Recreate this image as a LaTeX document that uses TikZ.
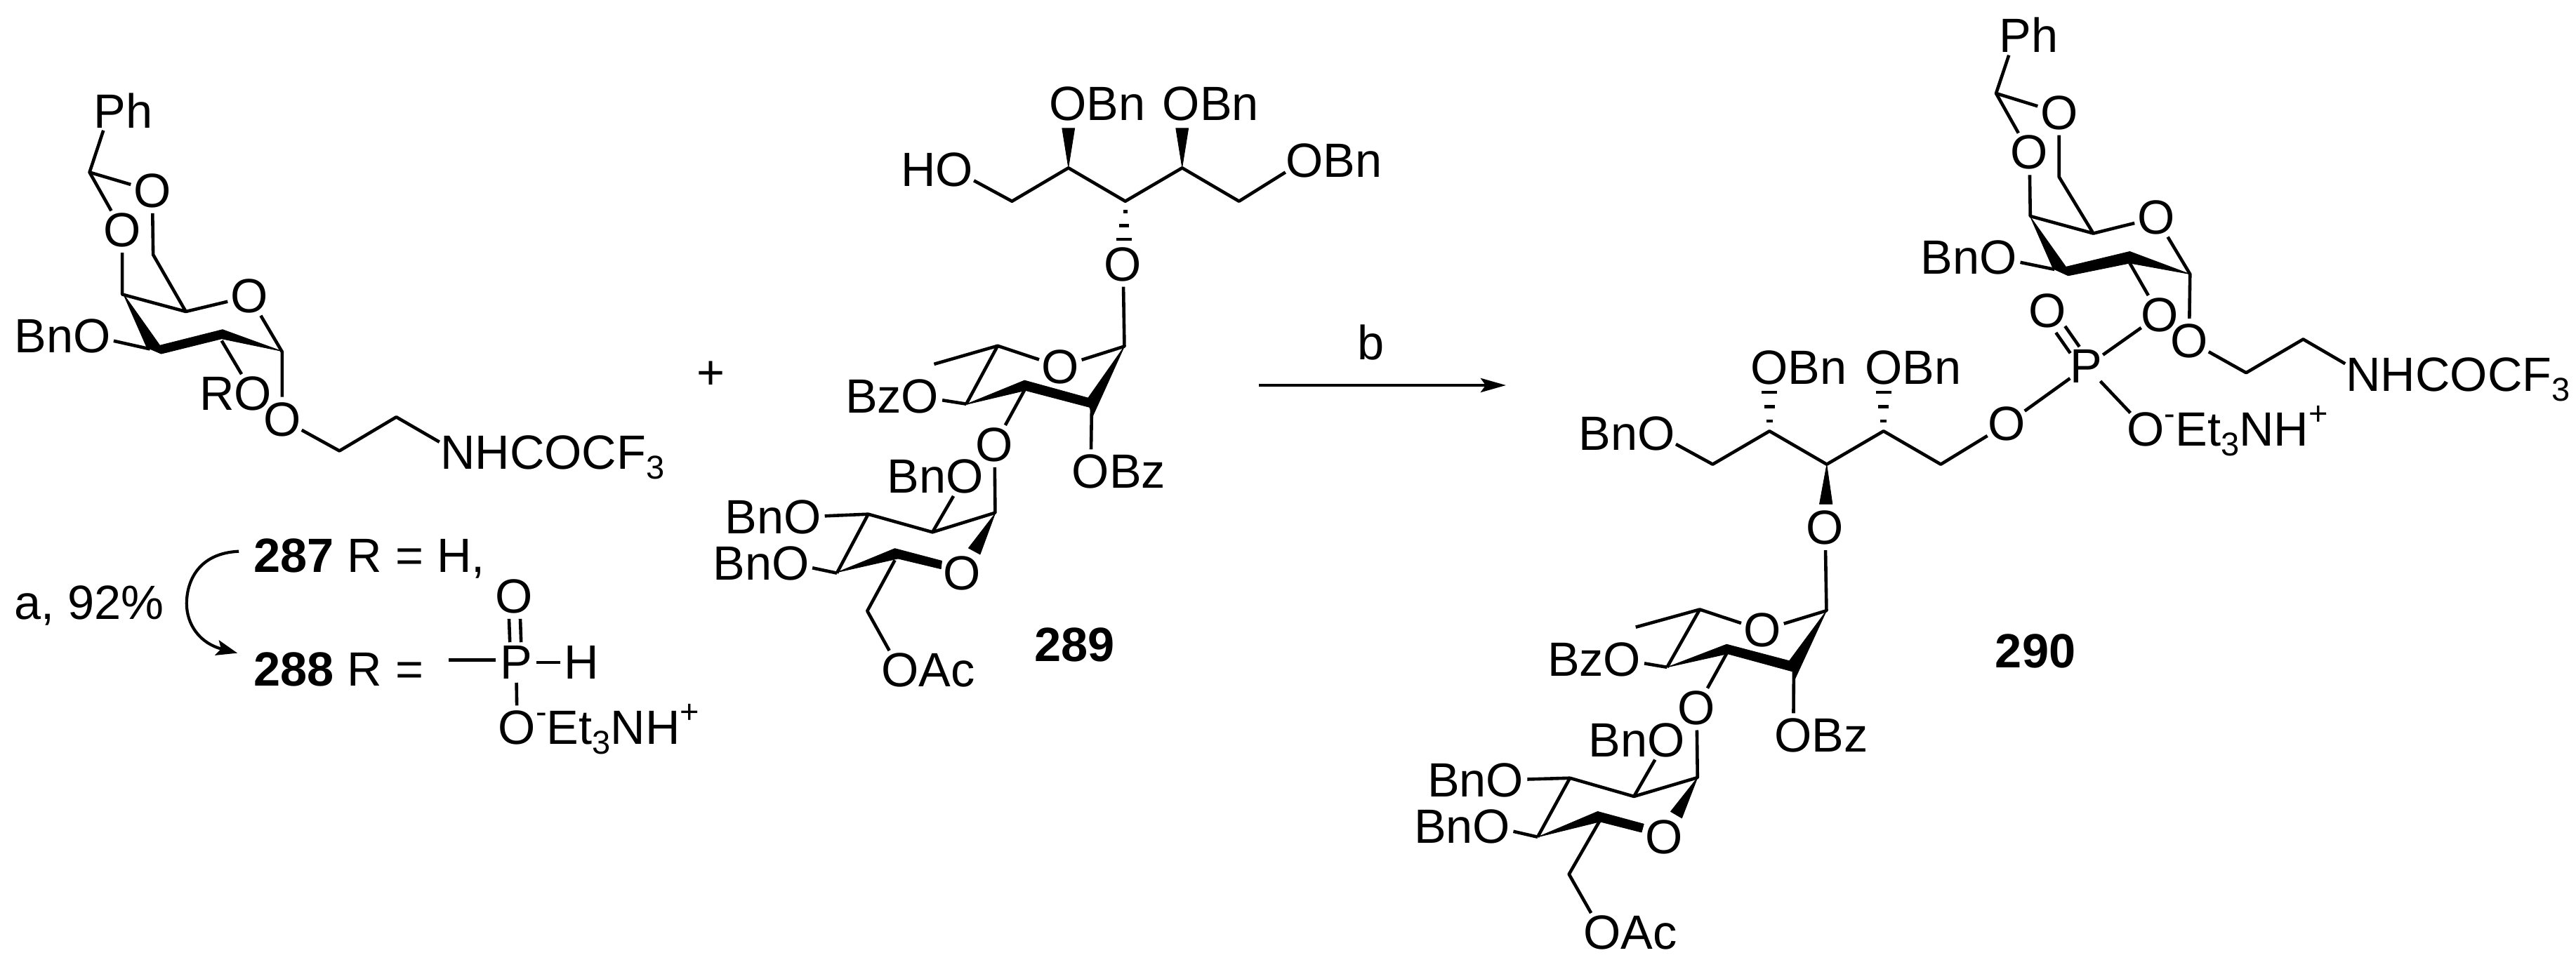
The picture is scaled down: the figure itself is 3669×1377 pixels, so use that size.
\documentclass[tikz,border=0pt]{standalone}
\usepackage{fontspec}
\setmainfont{Liberation Sans}
\usetikzlibrary{arrows.meta}
\newcommand\subs[1]{\raisebox{-14pt}{\fontsize{47}{47}\selectfont #1}}
\newcommand\sups[1]{\raisebox{30pt}{\fontsize{47}{47}\selectfont #1}}
\newcommand\atm[3]{\node[atom] (#1) at (#2) {#3};}
\newcommand\Ort[3]{\node[atom] (#1) at (#2) {O};\node[lab,anchor=base west,xshift=26.6pt] (#1x) at (#1.base) {#3};}
\newcommand\Olt[3]{\node[atom] (#1) at (#2) {O};\node[lab,anchor=base east,xshift=-26.6pt] (#1x) at (#1.base) {#3};}
\newcommand\Nrt[3]{\node[atom] (#1) at (#2) {N};\node[lab,anchor=base west,xshift=24.7pt] (#1x) at (#1.base) {#3};}
\newcommand\Prt[3]{\node[atom] (#1) at (#2) {P};\node[lab,anchor=base west,xshift=22.8pt] (#1x) at (#1.base) {#3};}
\tikzset{
  lab/.style={inner sep=0pt,outer sep=0pt,font=\fontsize{68.5}{72}\selectfont},
  atom/.style={lab,circle,outer sep=-4pt},
  bond/.style={line width=4.6pt,line join=round},
  bold/.style={fill=black,draw=black,line width=0.8pt,line join=round},
  hash/.style={line width=4.6pt},
  rxn/.style={line width=4.6pt},
  zm/.style n args={4}{shift={(#1,#2)},x=#3pt,y=-#4pt}
}
\begin{document}
\begin{tikzpicture}[x=1pt,y=-1pt]
\useasboundingbox (0,0) rectangle (3669,1377);
\fill[white] (0,0) rectangle (3669,1377);

% ---------- compound 287/288 ring
\begin{scope}[zm={0}{100}{0.6378}{0.3954}]
\Prt{ap}{245,148}{h}
\coordinate (ac) at (200,368);
\atm{ao1}{340,435}{O}
\atm{ao2}{273,577}{O}
\coordinate (ac6) at (342,665);
\coordinate (ac4) at (273,808);
\coordinate (ac5) at (415,870);
\atm{ao5}{557,815}{O}
\coordinate (ac1) at (630,1015);
\coordinate (ac3) at (335,1005);
\coordinate (ac2) at (495,975);
\Olt{ao3}{205,958}{Bn}
\Olt{aor}{565,1165}{R}
\atm{aog}{630,1258}{O}
\coordinate (ag1) at (758,1372);
\coordinate (ag2) at (885,1250);
\Nrt{an}{1022,1378}{HCOCF\subs{3}}
\draw[bond] (ap) -- (ac) -- (ao1);
\draw[bond] (ac) -- (ao2) -- (ac4) -- (ac5) -- (ac6) -- (ao1);
\draw[bond] (ac5) -- (ao5) -- (ac1) -- (aog) -- (ag1) -- (ag2) -- (an);
\draw[bond] (ao3) -- (ac3);
\draw[bond] (ac2) -- (aor);
\fill[bold] (275,805) -- (357,992) -- (497,935) -- (630,1013) -- (495,968) -- (360,1022) -- (328,1000) -- cycle;
\end{scope}

% ---------- labels 287 / 288
\begin{scope}[zm={0}{720}{0.6696}{0.3333}]
\node[lab,anchor=base west] (ayield) at (30,487) {a, 92\%};
\node[lab,anchor=base west] (l287) at (540,285) {\textbf{287} R = H,};
\node[lab,anchor=base west] (l288) at (540,772) {\textbf{288} R =};
\atm{rp}{1098,672}{P}
\atm{ro}{1093,390}{O}
\atm{rh}{1237,672}{H}
\Ort{rom}{1100,952}{\sups{-}Et\subs{3}NH\sups{+}}
\coordinate (rfree) at (955,662);
\coordinate (cvs) at (508,197);
\coordinate (cve) at (505,632);
\draw[bond,transform canvas={xshift=-8pt}] (ro) -- (rp);
\draw[bond,transform canvas={xshift=8pt}] (ro) -- (rp);
\draw[bond] (rfree) -- (rfree -| rp.west);
\draw[bond] (rp) -- (rh);
\draw[bond] (rp) -- (rom);
\draw[line width=4.2pt,-{Stealth[length=30pt,width=22pt,inset=6pt]}] (cvs) .. controls (420,205) and (397,330) .. (397,420) .. controls (397,510) and (425,590) .. (cve);
\end{scope}

% ---------- plus, reaction arrow
\node[lab] (plus) at (1012,535) {+};
\coordinate (arrs) at (1793,549);
\coordinate (arre) at (2145,549);
\draw[rxn,-{Stealth[length=36pt,width=20pt,inset=7pt]}] (arrs) -- (arre);
\node[lab,anchor=base] (bb) at (1953,512) {b};

% ---------- compound 289, chain and first ring
\begin{scope}[zm={1000}{100}{0.6378}{0.3571}]
\Olt{bo1}{563,398}{H}
\coordinate (bc1) at (692,523);
\coordinate (bc2) at (818,390);
\coordinate (bc3) at (945,523);
\coordinate (bc4) at (1072,390);
\coordinate (bc5) at (1199,523);
\Ort{bo5}{1345,360}{Bn}
\Ort{bo2}{817,133}{Bn}
\Ort{bo4}{1070,133}{Bn}
\atm{bo3}{940,775}{O}
\draw[bond] (bo1) -- (bc1) -- (bc2) -- (bc3) -- (bc4) -- (bc5) -- (bo5);
\fill[bold] (818,388) -- (804,232) -- (832,232) -- cycle;
\fill[bold] (1072,388) -- (1058,232) -- (1086,232) -- cycle;
\draw[hash] (940,565) -- (950,565);
\draw[hash] (931,620) -- (953,620);
\draw[hash] (925,675) -- (960,675);
\coordinate (dc1) at (943,1102);
\atm{do5}{800,1183}{O}
\coordinate (dc5) at (660,1100);
\coordinate (dme) at (518,1173);
\coordinate (dc4) at (590,1332);
\coordinate (dc3) at (722,1270);
\coordinate (dc2) at (870,1350);
\Olt{do4}{487,1303}{Bz}
\atm{do3}{653,1495}{O}
\draw[bond] (bo3) -- (dc1) -- (do5) -- (dc5) -- (dme);
\draw[bond] (dc5) -- (dc4);
\draw[bond] (do4) -- (dc4);
\draw[bond] (dc3) -- (do3);
\fill[bold] (587,1335) -- (720,1238) -- (862,1308) -- (943,1102) -- (873,1378) -- (865,1345) -- (722,1278) -- cycle;
\end{scope}

% ---------- compound 289, second ring
\begin{scope}[zm={1000}{640}{0.4464}{0.3333}]
\Ort{do2}{1240,97}{Bz}
\coordinate (ec1) at (935,272);
\coordinate (ec2) at (735,355);
\coordinate (ec3) at (530,278);
\coordinate (ec4) at (430,530);
\coordinate (ec5) at (615,475);
\coordinate (ec6) at (527,692);
\atm{eo5}{830,530}{O}
\Olt{eo2}{838,118}{Bn}
\Olt{eo3}{320,290}{Bn}
\Olt{eo4}{282,488}{Bn}
\Ort{eo6}{632,945}{Ac}
\node[lab,anchor=base west] (l289) at (1060,908) {\textbf{289}};
\draw[bond] (dc2) -- (do2);
\draw[bond] (do3) -- (ec1) -- (ec2) -- (ec3) -- (ec4);
\draw[bond] (ec2) -- (eo2);
\draw[bond] (eo3) -- (ec3);
\draw[bond] (eo4) -- (ec4);
\draw[bond] (ec5) -- (ec6) -- (eo6);
\fill[bold] (430,527) -- (615,425) -- (765,478) -- (762,512) -- (625,468) -- cycle;
\fill[bold] (935,275) -- (850,423) -- (887,450) -- cycle;
\end{scope}

% ---------- compound 290, galactose ring and phosphate
\begin{scope}[zm={2650}{0}{0.6499}{0.4464}]
\Prt{fp}{339,115}{h}
\coordinate (fc) at (297,298);
\atm{fo1}{435,360}{O}
\atm{fo2}{370,487}{O}
\coordinate (fc6) at (435,565);
\coordinate (fc4) at (372,690);
\coordinate (fc5) at (510,745);
\atm{fo5}{648,695}{O}
\coordinate (fc1) at (722,875);
\coordinate (fc3) at (425,860);
\coordinate (fc2) at (590,840);
\Olt{fo3}{302,823}{Bn}
\atm{fo22}{655,1005}{O}
\atm{fog}{720,1088}{O}
\coordinate (fg1) at (845,1190);
\coordinate (fg2) at (970,1083);
\Nrt{fn}{1102,1195}{HCOCF\subs{3}}
\atm{pp}{495,1170}{P}
\atm{po}{410,993}{O}
\Ort{pom}{625,1370}{\sups{-}Et\subs{3}NH\sups{+}}
\draw[bond] (fp) -- (fc) -- (fo1);
\draw[bond] (fc) -- (fo2) -- (fc4) -- (fc5) -- (fc6) -- (fo1);
\draw[bond] (fc5) -- (fo5) -- (fc1) -- (fog) -- (fg1) -- (fg2) -- (fn);
\draw[bond] (fo3) -- (fc3);
\draw[bond] (fc2) -- (fo22) -- (pp) -- (pom);
\draw[bond,transform canvas={shift={(6.5pt,4.6pt)}}] (po) -- (pp);
\draw[bond,transform canvas={shift={(-6.5pt,-4.6pt)}}] (po) -- (pp);
\fill[bold] (372,692) -- (450,852) -- (590,803) -- (722,875) -- (590,840) -- (455,880) -- (422,858) -- cycle;
\end{scope}

% ---------- compound 290, chain
\begin{scope}[zm={2200}{450}{0.574}{0.3333}]
\Olt{go1}{277,503}{Bn}
\coordinate (gc1) at (417,635);
\coordinate (gc2) at (558,493);
\coordinate (gc3) at (700,635);
\coordinate (gc4) at (841,493);
\coordinate (gc5) at (983,635);
\atm{go5}{1146,463}{O}
\Ort{go2}{558,222}{Bn}
\Ort{go4}{841,222}{Bn}
\atm{go3}{696,907}{O}
\draw[bond] (go1) -- (gc1) -- (gc2) -- (gc3) -- (gc4) -- (gc5) -- (go5) -- (pp);
\foreach \xc in {558,841}{
  \draw[hash] (\xc-8,450) -- (\xc+8,450);
  \draw[hash] (\xc-13,388) -- (\xc+13,388);
  \draw[hash] (\xc-19,327) -- (\xc+19,327);
}
\fill[bold] (700,637) -- (682,805) -- (714,805) -- cycle;
\end{scope}

% ---------- compound 290, rings
\begin{scope}[zm={2000}{850}{0.6378}{0.336}]
\coordinate (hc1) at (943,60);
\atm{ho5}{800,143}{O}
\coordinate (hc5) at (660,55);
\coordinate (hme) at (517,130);
\coordinate (hc4) at (587,300);
\coordinate (hc3) at (722,235);
\coordinate (hc2) at (870,320);
\Ort{ho2}{869,590}{Bz}
\Olt{ho4}{487,268}{Bz}
\atm{ho3}{653,472}{O}
\coordinate (kc1) at (655,768);
\coordinate (kc2) at (513,848);
\coordinate (kc3) at (370,770);
\coordinate (kc4) at (298,1020);
\coordinate (kc5) at (437,950);
\coordinate (kc6) at (368,1178);
\atm{ko5}{580,1020}{O}
\Olt{ko2}{585,610}{Bn}
\Olt{ko3}{225,778}{Bn}
\Olt{ko4}{195,975}{Bn}
\Ort{ko6}{442,1425}{Ac}
\node[lab,anchor=base west] (l290) at (1320,303) {\textbf{290}};
\draw[bond] (go3) -- (hc1) -- (ho5) -- (hc5) -- (hme);
\draw[bond] (hc5) -- (hc4);
\draw[bond] (ho4) -- (hc4);
\draw[bond] (hc3) -- (ho3) -- (kc1) -- (kc2) -- (kc3) -- (kc4);
\draw[bond] (hc2) -- (ho2);
\draw[bond] (kc2) -- (ko2);
\draw[bond] (ko3) -- (kc3);
\draw[bond] (ko4) -- (kc4);
\draw[bond] (kc5) -- (kc6) -- (ko6);
\fill[bold] (587,300) -- (720,203) -- (860,273) -- (943,60) -- (872,352) -- (867,318) -- (722,243) -- cycle;
\fill[bold] (298,1020) -- (432,912) -- (535,965) -- (530,1000) -- (437,955) -- cycle;
\fill[bold] (655,768) -- (595,912) -- (620,940) -- cycle;
\end{scope}
\end{tikzpicture}
\end{document}
